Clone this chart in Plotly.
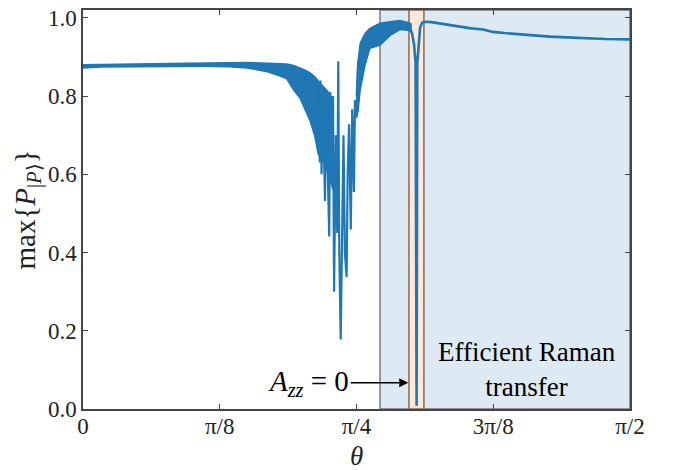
import math
import plotly.graph_objects as go

# ---------------- data ----------------
# dense oscillating band, left part: theta (rad), upper / lower envelope
theta_band_l = [0.000, 0.05, 0.15, 0.25, 0.35, 0.42, 0.471, 0.53, 0.566, 0.585, 0.605, 0.623,
                0.638, 0.652, 0.665, 0.675, 0.690, 0.705, 0.718]
upper_band_l = [0.880, 0.881, 0.882, 0.883, 0.884, 0.885, 0.886, 0.884, 0.883, 0.882, 0.878, 0.872,
                0.866, 0.859, 0.850, 0.839, 0.825, 0.810, 0.790]
lower_band_l = [0.872, 0.874, 0.875, 0.876, 0.876, 0.875, 0.872, 0.862, 0.851, 0.844, 0.815, 0.795,
                0.765, 0.737, 0.700, 0.653, 0.630, 0.600, 0.560]

# dense band, right part (recovery before the A_zz = 0 dip)
theta_band_r = [0.785, 0.790, 0.796, 0.810, 0.824, 0.853, 0.882, 0.910, 0.933, 0.942]
upper_band_r = [0.800, 0.890, 0.935, 0.960, 0.973, 0.986, 0.990, 0.993, 0.988, 0.985]
lower_band_r = [0.745, 0.762, 0.816, 0.880, 0.922, 0.930, 0.955, 0.970, 0.968, 0.965]

# deep oscillation spikes in the dip
theta_spikes = [0.672, 0.680, 0.682, 0.685, 0.688, 0.695, 0.698, 0.707, 0.710, 0.716, 0.718,
                0.721, 0.726, 0.730, 0.733, 0.736, 0.740, 0.745, 0.748, 0.752, 0.757, 0.760,
                0.764, 0.769, 0.773, 0.778, 0.781, 0.785, 0.790]
p_spikes = [0.840, 0.630, 0.840, 0.600, 0.820, 0.532, 0.815, 0.441, 0.810, 0.620, 0.800,
            0.300, 0.700, 0.450, 0.889, 0.400, 0.178, 0.550, 0.700, 0.400, 0.337, 0.600,
            0.728, 0.459, 0.766, 0.555, 0.790, 0.745, 0.890]

# A_zz = 0 dip and the smooth tail to pi/2
theta_tail = [0.930, 0.939, 0.945, 0.951, 0.955, 0.958, 0.960, 0.963, 0.968, 0.974, 0.985,
              1.000, 1.020, 1.054, 1.083, 1.115, 1.149, 1.177, 1.210, 1.246, 1.290, 1.341,
              1.390, 1.436, 1.500, 1.5708]
p_tail = [0.978, 0.975, 0.960, 0.930, 0.884, 0.008, 0.884, 0.930, 0.975, 0.988, 0.990,
          0.989, 0.986, 0.981, 0.977, 0.973, 0.970, 0.964, 0.961, 0.958, 0.955, 0.952,
          0.950, 0.948, 0.946, 0.945]

# shaded regions (theta, rad)
raman_region = [0.853, math.pi / 2]
azz_region = [0.936, 0.979]

x_tickvals = [0, math.pi / 8, math.pi / 4, 3 * math.pi / 8, math.pi / 2]
x_ticktext = ["0", "π/8", "π/4", "3π/8", "π/2"]
y_tickvals = [0.0, 0.2, 0.4, 0.6, 0.8, 1.0]
y_ticktext = ["0.0", "0.2", "0.4", "0.6", "0.8", "1.0"]

BLUE = "#1f77b4"
FONT = "Liberation Serif"

fig = go.Figure()

for th, up, lo in [(theta_band_l, upper_band_l, lower_band_l),
                   (theta_band_r, upper_band_r, lower_band_r)]:
    fig.add_trace(go.Scatter(
        x=th + th[::-1], y=up + lo[::-1], fill="toself", mode="lines",
        fillcolor=BLUE, line=dict(color=BLUE, width=1.5), hoverinfo="skip",
        showlegend=False))

fig.add_trace(go.Scatter(x=theta_spikes, y=p_spikes, mode="lines",
                         line=dict(color=BLUE, width=2.2), showlegend=False))
fig.add_trace(go.Scatter(x=theta_tail, y=p_tail, mode="lines",
                         line=dict(color=BLUE, width=2.6), showlegend=False))

fig.add_shape(type="rect", xref="x", yref="paper", x0=raman_region[0], x1=raman_region[1],
              y0=0, y1=1, fillcolor="#dde9f3", line=dict(color="#7a7a7a", width=1.5),
              layer="below")
fig.add_shape(type="rect", xref="x", yref="paper", x0=azz_region[0], x1=azz_region[1],
              y0=0, y1=1, fillcolor="#fde8da", line=dict(color="#8a6a58", width=1.5),
              layer="below")

fig.add_annotation(x=(raman_region[0] + raman_region[1]) / 2 + 0.063, y=0.10,
                   text="Efficient Raman<br>transfer", showarrow=False,
                   font=dict(family=FONT, size=27, color="black"), align="center")

fig.add_annotation(x=azz_region[0] - 0.002, y=0.067, ax=0.648, ay=0.067,
                   axref="x", ayref="y", xref="x", yref="y",
                   text="<i>A</i><sub><i>zz</i></sub> = 0", showarrow=True,
                   arrowhead=2, arrowsize=1.2, arrowwidth=1.5, arrowcolor="black",
                   font=dict(family=FONT, size=29, color="black"))

# x-axis title placed as annotation to match the reference position
fig.add_annotation(x=0.5, y=-0.119, xref="paper", yref="paper", text="<i>θ</i>",
                   showarrow=False, yanchor="middle",
                   font=dict(family=FONT, size=27, color="#222"))

axis_common = dict(showgrid=False, zeroline=False, showline=True, linecolor="#444",
                   linewidth=1.5, mirror="ticks", ticks="inside", ticklen=5,
                   tickwidth=1.2, tickcolor="#444",
                   tickfont=dict(family=FONT, size=23, color="#222"))

fig.update_xaxes(range=[0, math.pi / 2], tickvals=x_tickvals, ticktext=x_ticktext,
                 ticklabelstandoff=-4, **axis_common)
fig.update_yaxes(range=[0, 1.02], tickvals=y_tickvals, ticktext=y_ticktext,
                 title=dict(text="max{<i>P</i><sub>|<i>P</i>⟩</sub>}",
                            font=dict(family=FONT, size=29, color="#222"), standoff=4),
                 **axis_common)

fig.update_layout(width=681, height=470, margin=dict(l=83, r=51, t=6, b=61),
                  plot_bgcolor="white", paper_bgcolor="white", showlegend=False)

fig.write_html("out.html", config={"displayModeBar": False},
               post_script="document.body.style.margin='0';")
